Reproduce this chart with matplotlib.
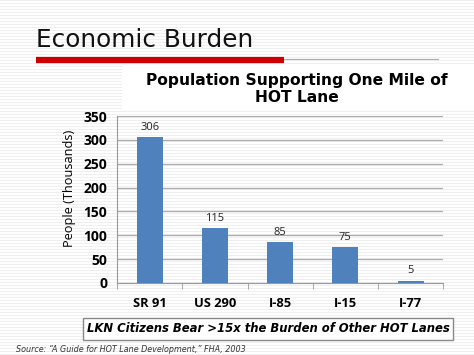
import numpy as np
import matplotlib
matplotlib.use("Agg")
import matplotlib.pyplot as plt
from matplotlib.patches import Rectangle

# chart data
roads = ["SR 91", "US 290", "I-85", "I-15", "I-77"]
people = [306, 115, 85, 75, 5]
yticks = [0, 50, 100, 150, 200, 250, 300, 350]

bar_color = "#4F81BD"

fig = plt.figure(figsize=(4.74, 3.55), dpi=100)
fig.patch.set_facecolor("white")

# faint striped slide background
bg = fig.add_axes([0, 0, 1, 1])
bg.set_xlim(0, 474)
bg.set_ylim(355, 0)
bg.axis("off")
for yy in np.arange(0, 355, 3):
    bg.axhline(yy, color="#efefef", lw=0.8, zorder=0)
# white panel behind chart title
bg.add_patch(Rectangle((122, 64), 352, 46, facecolor="white", edgecolor="none", zorder=1))

# slide title and red rule
bg.text(36, 40, "Economic Burden", fontsize=17.8, va="center", ha="left",
        family="DejaVu Sans", color="#111111", zorder=2)
bg.plot([36, 284], [60, 60], color="#CC0000", lw=4.5, solid_capstyle="butt", zorder=2)
bg.plot([284, 438], [58.5, 58.5], color="#c8a0a0", lw=0.8, zorder=2)

# chart title
bg.text(297, 89, "Population Supporting One Mile of\nHOT Lane", fontsize=11.2,
        fontweight="bold", ha="center", va="center", linespacing=1.15,
        family="DejaVu Sans", color="black", zorder=2)

ax = fig.add_axes([0.247, 0.203, 0.688, 0.470])
ax.patch.set_alpha(0)
x = np.arange(len(roads))
bars = ax.bar(x, people, width=0.4, color=bar_color, zorder=3)
for xi, v in zip(x, people):
    ax.text(xi, v + 9, str(v), ha="center", va="bottom", fontsize=8,
            family="Open Sans", color="#222222")

ax.set_xlim(-0.5, len(roads) - 0.5)
ax.set_ylim(0, 350)
ax.set_yticks(yticks)
ax.set_yticklabels([str(t) for t in yticks], fontweight="bold", fontsize=10,
                   family="Open Sans")
ax.set_xticks(x)
ax.set_xticklabels(roads, fontweight="bold", fontsize=9.3, family="Open Sans")
ax.set_xticks(np.arange(-0.5, len(roads)), minor=True)
ax.tick_params(axis="x", which="major", length=0, pad=10)
ax.tick_params(axis="x", which="minor", length=4, color="#999999")
ax.tick_params(axis="y", length=0, pad=7)
ax.yaxis.grid(True, color="#aaaaaa", lw=0.9, zorder=0)
ax.set_axisbelow(True)
for side in ["top", "right"]:
    ax.spines[side].set_visible(False)
ax.spines["left"].set_color("#999999")
ax.spines["bottom"].set_color("#999999")
ax.set_ylabel("People (Thousands)", fontsize=9.2, family="Open Sans")
ax.yaxis.set_label_coords(-0.125, 0.57)

# callout box and source
bg.text(268, 329, "LKN Citizens Bear >15x the Burden of Other HOT Lanes",
        fontsize=8.4, fontweight="bold", style="italic", ha="center", va="center",
        family="DejaVu Sans", zorder=3,
        bbox=dict(boxstyle="square,pad=0.35", facecolor="white", edgecolor="#888888", lw=1))
bg.text(16, 349, "Source: \u201cA Guide for HOT Lane Development,\u201d FHA, 2003",
        fontsize=5.8, style="italic", ha="left", va="center", family="DejaVu Sans",
        color="#333333", zorder=3)

fig.savefig("out.png", dpi=100)
